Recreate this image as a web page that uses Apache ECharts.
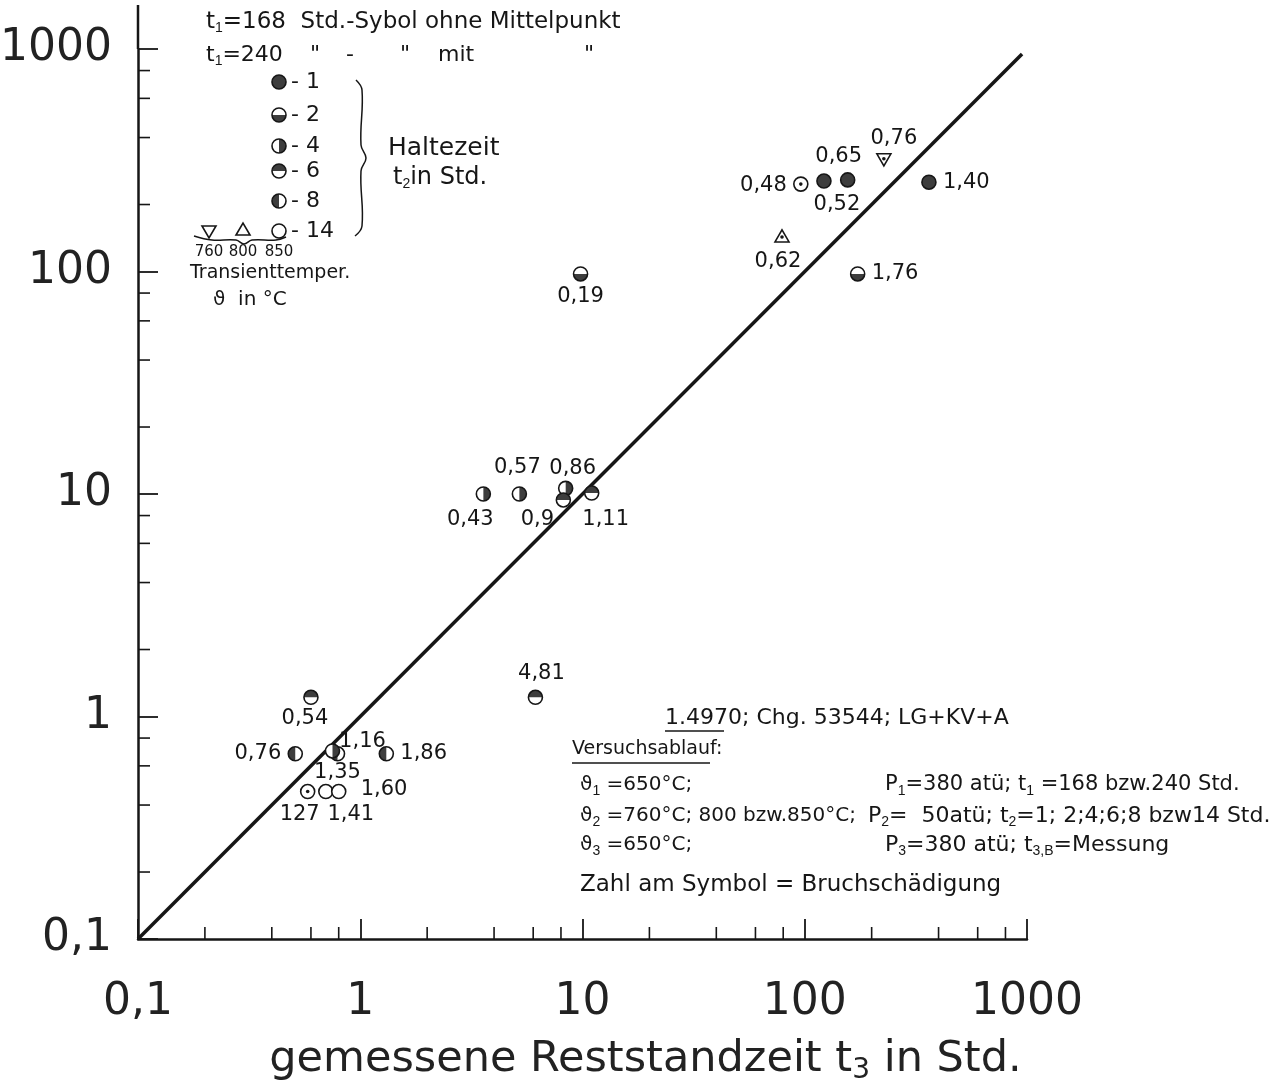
<!DOCTYPE html>
<html>
<head>
<meta charset="utf-8">
<script src="https://cdn.jsdelivr.net/npm/echarts@6/dist/echarts.min.js"></script>
<style>
  html, body { margin: 0; background: #fff; }
  #chart { width: 1277px; height: 1088px; }
</style>
</head>
<body>
<div id="chart"></div>
<script>
// --- data -------------------------------------------------------------
// gemessene Reststandzeit t3 (x) and berechnete Reststandzeit (y), hours
const damageLabels = ['0,76', '0,65', '0,52', '0,48', '1,40', '0,62', '1,76', '0,19',
  '0,43', '0,57', '0,86', '0,9', '1,11', '4,81', '0,54', '0,76', '1,16', '1,35', '1,86',
  '127', '1,41', '1,60']
const restTime = [227, 156, 122, 96, 362, 79, 173, 9.8,
  3.58, 5.2, 8.4, 8.2, 11.0, 6.14, 0.60, 0.51, 0.79, 0.75, 1.31,
  0.58, 0.70, 0.80]
const calcTime = [321, 258, 255, 247, 252, 143, 97.5, 97.5,
  10, 10, 10.6, 9.4, 10.1, 1.22, 1.22, 0.68, 0.68, 0.70, 0.68,
  0.46, 0.46, 0.46]
// Haltezeit t2 in Std. (null where only the temperature symbol is shown)
const holdTime = [null, 1, 1, 14, 1, null, 2, 2,
  4, 4, 4, 6, 6, 6, 6, 8, 8, 4, 8,
  14, 14, 14]
// Transienttemperatur in °C
const transTemp = [760, 850, 850, 850, 850, 800, 850, 850,
  850, 850, 850, 850, 850, 850, 850, 850, 850, 850, 850,
  850, 850, 850]
// t1 in Std. (240 -> symbol mit Mittelpunkt)
const firstTime = [240, 168, 168, 240, 168, 240, 168, 168,
  168, 168, 168, 168, 168, 168, 168, 168, 168, 168, 168,
  240, 168, 168]
const diagonal = [[0.1, 0.1], [950, 950]]
const minorTicks = [0.2, 0.4, 0.6, 0.8, 2, 4, 6, 8, 20, 40, 60, 80, 200, 400, 600, 800]
const legendHours = [1, 2, 4, 6, 8, 14]
const legendTemps = [760, 800, 850]

// --- label placement next to each symbol (layout only) -----------------
const labelDx = [10, -9, 13, -14, 14, -4, 14, 0, -13, -2, 7, -26, 14, 6, -6, -14, 25, 5, 14, -8, 25, 22]
const labelDy = [-20, -23, 24, 1, 0, 25, 0, 23, 26, -26, -20, 20, 27, -24, 21, 0, -12, 22, 0, 23, 23, -2]
const labelAlign = ['center', 'center', 'center', 'right', 'left', 'center', 'left', 'center',
  'center', 'center', 'center', 'center', 'center', 'center', 'center', 'right', 'center', 'center', 'left',
  'center', 'center', 'left']

const FONT = 'DejaVu Sans'
const INK = '#161616'
const SHADE = '#3d3d3d'
const SUB = { fontSize: 14, padding: [13, 0, 0, 0] }

function symbolKind(i) {
  if (transTemp[i] === 760) return 'v'
  if (transTemp[i] === 800) return '^'
  return holdTime[i]
}

function symbolParts(kind, dot, cx, cy) {
  const r = 7
  const parts = []
  if (kind === 'v' || kind === '^') {
    const pts = kind === 'v'
      ? [[cx - 7, cy - 5], [cx + 7, cy - 5], [cx, cy + 7]]
      : [[cx - 7, cy + 5], [cx + 7, cy + 5], [cx, cy - 7]]
    parts.push({ type: 'polygon', shape: { points: pts }, style: { fill: '#fff', stroke: INK, lineWidth: 1.6 } })
  } else {
    parts.push({ type: 'circle', shape: { cx, cy, r }, style: { fill: kind === 1 ? SHADE : '#fff' } })
    const half = {
      2: [0, Math.PI],
      4: [-Math.PI / 2, Math.PI / 2],
      6: [Math.PI, 2 * Math.PI],
      8: [Math.PI / 2, 3 * Math.PI / 2]
    }
    if (half[kind]) {
      parts.push({
        type: 'sector',
        shape: { cx, cy, r0: 0, r, startAngle: half[kind][0], endAngle: half[kind][1], clockwise: true },
        style: { fill: SHADE }
      })
    }
    parts.push({ type: 'circle', shape: { cx, cy, r }, style: { fill: 'none', stroke: INK, lineWidth: 1.6 } })
  }
  if (dot) parts.push({ type: 'circle', shape: { cx, cy, r: 1.8 }, style: { fill: INK } })
  return parts
}

function txt(text, x, y, size, extra) {
  return {
    type: 'text', x, y, silent: true,
    style: Object.assign({
      text, fontSize: size, fontFamily: FONT, fill: INK,
      align: 'left', verticalAlign: 'middle', rich: { s: SUB }
    }, extra || {})
  }
}

function hline(x1, x2, y) {
  return { type: 'line', silent: true, shape: { x1, y1: y, x2, y2: y }, style: { stroke: INK, lineWidth: 1.5 } }
}

function curve(points) {
  return { type: 'polyline', silent: true, shape: { points, smooth: 0.4 }, style: { fill: 'none', stroke: INK, lineWidth: 1.5 } }
}

// --- legend block (top left) -------------------------------------------
const legendY = [82, 115, 146, 171, 201, 231]
const graphics = [
  txt('t{s|1}=168  Std.-Sybol ohne Mittelpunkt', 206, 22, 23),
  txt('t{s|1}=240', 206, 55, 22),
  txt('"', 310, 55, 22), txt('-', 346, 55, 22), txt('"', 400, 55, 22),
  txt('mit', 438, 55, 22), txt('"', 584, 55, 22),
  txt('Haltezeit', 388, 148, 25),
  txt('t{s|2}in Std.', 393, 178, 24),
  txt('Transienttemper.', 190, 273, 19),
  txt('\u03d1  in °C', 213, 300, 20),
  curve([[356, 80], [362, 90], [361, 145], [366, 158], [361, 171], [362, 226], [355, 236]]),
  curve([[194, 236], [212, 240], [236, 240], [244, 244], [252, 240], [276, 240], [286, 237]])
]
legendHours.forEach((h, k) => {
  graphics.push({ type: 'group', silent: true, children: symbolParts(h, false, 279, legendY[k]) })
  graphics.push(txt('- ' + h, 291, legendY[k], 22))
})
const tempX = [209, 243, 279]
legendTemps.forEach((t, k) => {
  if (t === 760) graphics.push({ type: 'group', silent: true, children: symbolParts('v', false, tempX[k], 231) })
  if (t === 800) graphics.push({ type: 'group', silent: true, children: symbolParts('^', false, tempX[k], 230) })
  graphics.push(txt(String(t), tempX[k], 252, 15, { align: 'center' }))
})

// --- test description (bottom right) ----------------------------------
graphics.push(
  txt('1.4970; Chg. 53544; LG+KV+A', 665, 718, 22),
  hline(665, 724, 731),
  txt('Versuchsablauf:', 572, 749, 19),
  hline(572, 710, 763),
  txt('\u03d1{s|1} =650°C;', 580, 785, 20),
  txt('P{s|1}=380 atü; t{s|1} =168 bzw.240 Std.', 885, 785, 21),
  txt('\u03d1{s|2} =760°C; 800 bzw.850°C;', 580, 816, 20),
  txt('P{s|2}=  50atü; t{s|2}=1; 2;4;6;8 bzw14 Std.', 868, 816, 22),
  txt('\u03d1{s|3} =650°C;', 580, 845, 20),
  txt('P{s|3}=380 atü; t{s|3,B}=Messung', 885, 845, 22),
  txt('Zahl am Symbol = Bruchschädigung', 580, 885, 23)
)

const chart = echarts.init(document.getElementById('chart'))

const logAxis = {
  type: 'log',
  logBase: 10,
  min: 0.1,
  max: 1000,
  splitNumber: 4,
  splitLine: { show: false },
  axisLine: { lineStyle: { color: INK, width: 2.5 } },
  axisTick: { inside: true, length: 20, lineStyle: { color: INK, width: 1.8 } },
  axisLabel: {
    fontSize: 44,
    fontFamily: FONT,
    color: '#222',
    formatter: v => String(+(+v).toPrecision(6)).replace('.', ',')
  }
}

chart.setOption({
  animation: false,
  backgroundColor: '#fff',
  grid: { left: 138, right: 250, top: 49, bottom: 149, outerBoundsMode: 'none' },
  xAxis: Object.assign({}, logAxis, {
    axisLabel: Object.assign({}, logAxis.axisLabel, { margin: 42 }),
    name: 'gemessene Reststandzeit t{s|3} in Std.',
    nameLocation: 'middle',
    nameGap: 96,
    nameTextStyle: {
      fontSize: 43, fontFamily: FONT, color: '#222', padding: [0, 0, 0, 126],
      rich: { s: { fontSize: 28, fontFamily: FONT, color: '#222', padding: [22, 0, 0, 0] } }
    }
  }),
  yAxis: Object.assign({}, logAxis, {
    axisLabel: Object.assign({}, logAxis.axisLabel, { margin: 26 })
  }),
  graphic: graphics,
  series: [
    {
      name: 'diagonal',
      type: 'line',
      data: diagonal,
      symbol: 'none',
      silent: true,
      lineStyle: { color: INK, width: 3.5 },
      z: 2
    },
    {
      name: 'xMinor',
      type: 'custom',
      data: minorTicks.map(v => [v, 0.1]),
      silent: true,
      renderItem: (params, api) => {
        const p = api.coord([api.value(0), api.value(1)])
        return { type: 'line', shape: { x1: p[0], y1: p[1], x2: p[0], y2: p[1] - 12 }, style: { stroke: INK, lineWidth: 1.6 } }
      }
    },
    {
      name: 'yMinor',
      type: 'custom',
      data: minorTicks.map(v => [0.1, v]),
      silent: true,
      renderItem: (params, api) => {
        const p = api.coord([api.value(0), api.value(1)])
        return { type: 'line', shape: { x1: p[0], y1: p[1], x2: p[0] + 12, y2: p[1] }, style: { stroke: INK, lineWidth: 1.6 } }
      }
    },
    {
      name: 'yAxisTop',
      type: 'custom',
      data: [[0.1, 1000]],
      silent: true,
      renderItem: (params, api) => {
        const p = api.coord([api.value(0), api.value(1)])
        return { type: 'line', shape: { x1: p[0], y1: p[1], x2: p[0], y2: p[1] - 44 }, style: { stroke: INK, lineWidth: 2.5 } }
      }
    },
    {
      name: 'Versuche',
      type: 'custom',
      data: restTime.map((x, i) => [x, calcTime[i]]),
      silent: true,
      z: 4,
      renderItem: (params, api) => {
        const i = params.dataIndex
        const p = api.coord([api.value(0), api.value(1)])
        const children = symbolParts(symbolKind(i), firstTime[i] === 240, p[0], p[1])
        children.push({
          type: 'text',
          x: p[0] + labelDx[i],
          y: p[1] + labelDy[i],
          style: {
            text: damageLabels[i], fontSize: 21, fontFamily: FONT, fill: INK,
            align: labelAlign[i], verticalAlign: 'middle'
          }
        })
        return { type: 'group', children }
      }
    }
  ]
})
</script>
</body>
</html>
